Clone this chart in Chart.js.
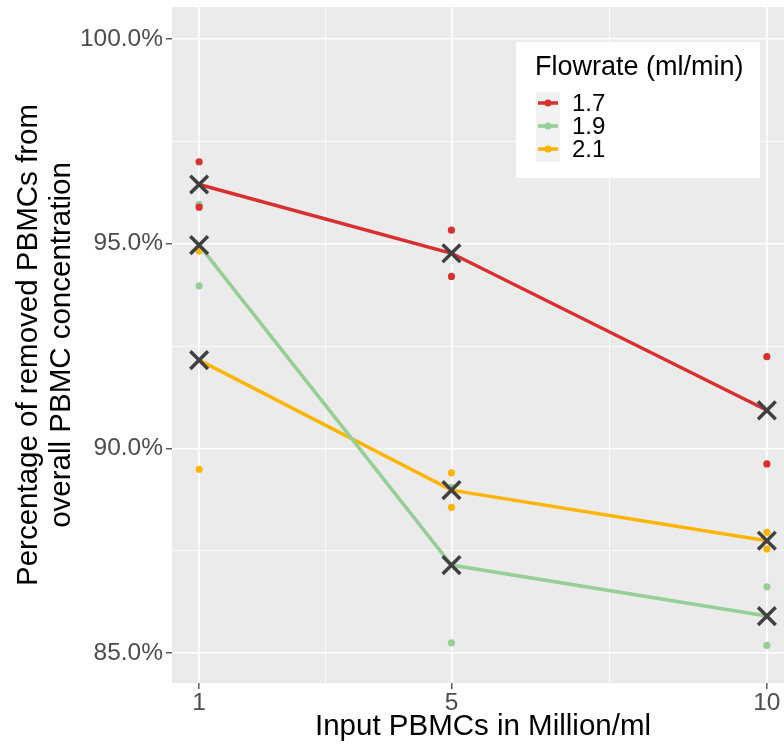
<!DOCTYPE html>
<html>
<head>
<meta charset="utf-8">
<script src="https://cdn.jsdelivr.net/npm/chart.js@4/dist/chart.umd.min.js"></script>
<style>
  html, body { margin: 0; padding: 0; background: #fff; overflow: hidden; }
  #wrap { width: 794px; height: 747px; }
</style>
</head>
<body>
<div id="wrap"><canvas id="chart" width="794" height="747"></canvas></div>
<script>
// input concentration (million/ml) on the x axis
const concentrations = [1, 5, 10]
const flowrates = ["1.7", "1.9", "2.1"]

// two replicate runs per flowrate, % of removed PBMCs
const flow17RunA = [97.0, 95.33, 92.24]
const flow17RunB = [95.89, 94.2, 89.62]
const flow19RunA = [95.96, 89.05, 86.62]
const flow19RunB = [93.97, 85.25, 85.19]
const flow21RunA = [94.82, 89.4, 87.95]
const flow21RunB = [89.49, 88.56, 87.54]

const xTicks = [1, 3, 5, 7.5, 10]
const yTicks = [85, 87.5, 90, 92.5, 95, 97.5, 100]

const runs = [[flow17RunA, flow17RunB], [flow19RunA, flow19RunB], [flow21RunA, flow21RunB]]
const colors = ["#d7302f", "#94cf94", "#ffb400"]
const fontFamily = "'Liberation Sans', Arial, sans-serif"

const toPoints = arr => arr.map((y, i) => ({ x: concentrations[i], y: y }))
const meanOf = pair => pair[0].map((v, i) => (v + pair[1][i]) / 2)

const datasets = []
runs.forEach((pair, i) => {
  datasets.push({
    label: flowrates[i],
    data: toPoints(pair[0]).concat(toPoints(pair[1])),
    showLine: false,
    pointRadius: 3.6,
    pointBackgroundColor: colors[i],
    pointBorderWidth: 0,
    order: 3
  })
})
runs.forEach((pair, i) => {
  datasets.push({
    label: flowrates[i] + " mean",
    data: toPoints(meanOf(pair)),
    showLine: true,
    borderColor: colors[i],
    borderWidth: 3.5,
    pointRadius: 0,
    order: 2
  })
})
runs.forEach((pair, i) => {
  datasets.push({
    label: flowrates[i] + " marker",
    data: toPoints(meanOf(pair)),
    showLine: false,
    pointStyle: "crossRot",
    pointRadius: 12.5,
    pointBorderColor: "#404040",
    pointBorderWidth: 3.5,
    order: 1
  })
})

const panelBg = {
  id: "panelBg",
  beforeDraw(chart) {
    const { ctx, chartArea: a } = chart
    ctx.save()
    ctx.fillStyle = "#ebebeb"
    ctx.fillRect(a.left, a.top, a.right - a.left, a.bottom - a.top)
    ctx.restore()
  }
}

const flowLegend = {
  id: "flowLegend",
  afterDatasetsDraw(chart) {
    const ctx = chart.ctx
    ctx.save()
    ctx.fillStyle = "#ffffff"
    ctx.fillRect(516, 42, 244, 136)
    ctx.fillStyle = "#000"
    ctx.font = "27px " + fontFamily
    ctx.textBaseline = "middle"
    ctx.fillText("Flowrate (ml/min)", 535, 68)
    ctx.fillStyle = "#f2f2f2"
    ctx.fillRect(536, 92, 24, 70)
    flowrates.forEach((f, i) => {
      const y = 103 + i * 23
      ctx.strokeStyle = colors[i]
      ctx.lineWidth = 3.5
      ctx.beginPath()
      ctx.moveTo(538, y)
      ctx.lineTo(558, y)
      ctx.stroke()
      ctx.fillStyle = colors[i]
      ctx.beginPath()
      ctx.arc(548, y, 3.6, 0, Math.PI * 2)
      ctx.fill()
      ctx.fillStyle = "#000"
      ctx.font = "24px " + fontFamily
      ctx.fillText(f, 572, y + 1)
    })
    ctx.restore()
  }
}

const isMajorY = v => v % 5 === 0
const isMajorX = v => [1, 5, 10].includes(v)

new Chart(document.getElementById("chart").getContext("2d"), {
  type: "scatter",
  data: { datasets: datasets },
  options: {
    responsive: false,
    animation: false,
    layout: { autoPadding: false, padding: { top: 7, right: 0, bottom: 0, left: 0 } },
    plugins: {
      legend: { display: false },
      tooltip: { enabled: false }
    },
    scales: {
      x: {
        type: "linear",
        min: 0.57,
        max: 10.43,
        afterFit: scale => {
          scale.height = 64
          scale.paddingLeft = 0
          scale.paddingRight = 0
        },
        afterBuildTicks: scale => { scale.ticks = xTicks.map(v => ({ value: v })) },
        border: { display: false },
        grid: {
          color: "#ffffff",
          lineWidth: ctx => ctx.tick && isMajorX(ctx.tick.value) ? 1.6 : 0.8,
          tickLength: 6,
          tickColor: ctx => ctx.tick && isMajorX(ctx.tick.value) ? "#333333" : "rgba(0,0,0,0)",
          tickWidth: 1.2
        },
        ticks: {
          autoSkip: false,
          maxRotation: 0,
          padding: 0,
          color: "#4d4d4d",
          font: { family: fontFamily, size: 24.5 },
          callback: v => isMajorX(v) ? String(v) : ""
        },
        title: {
          display: true,
          text: "Input PBMCs in Million/ml",
          color: "#000",
          font: { family: fontFamily, size: 29.5, lineHeight: 1.1 },
          padding: { top: 0, bottom: 4 }
        }
      },
      y: {
        min: 84.27,
        max: 100.78,
        afterFit: scale => {
          scale.width = 172
          scale.paddingTop = 0
          scale.paddingBottom = 0
        },
        afterBuildTicks: scale => { scale.ticks = yTicks.map(v => ({ value: v })) },
        border: { display: false },
        grid: {
          color: "#ffffff",
          lineWidth: ctx => ctx.tick && isMajorY(ctx.tick.value) ? 1.6 : 0.8,
          tickLength: 6,
          tickColor: ctx => ctx.tick && isMajorY(ctx.tick.value) ? "#333333" : "rgba(0,0,0,0)",
          tickWidth: 1.2
        },
        ticks: {
          autoSkip: false,
          padding: 3,
          color: "#4d4d4d",
          font: { family: fontFamily, size: 24.5 },
          callback: v => isMajorY(v) ? v.toFixed(1) + "%" : ""
        },
        title: {
          display: true,
          text: ["Percentage of removed PBMCs from", "overall PBMC concentration"],
          color: "#000",
          font: { family: fontFamily, size: 29.5, lineHeight: 1.1 },
          padding: { top: 13, bottom: 0 }
        }
      }
    }
  },
  plugins: [panelBg, flowLegend]
})
</script>
</body>
</html>
